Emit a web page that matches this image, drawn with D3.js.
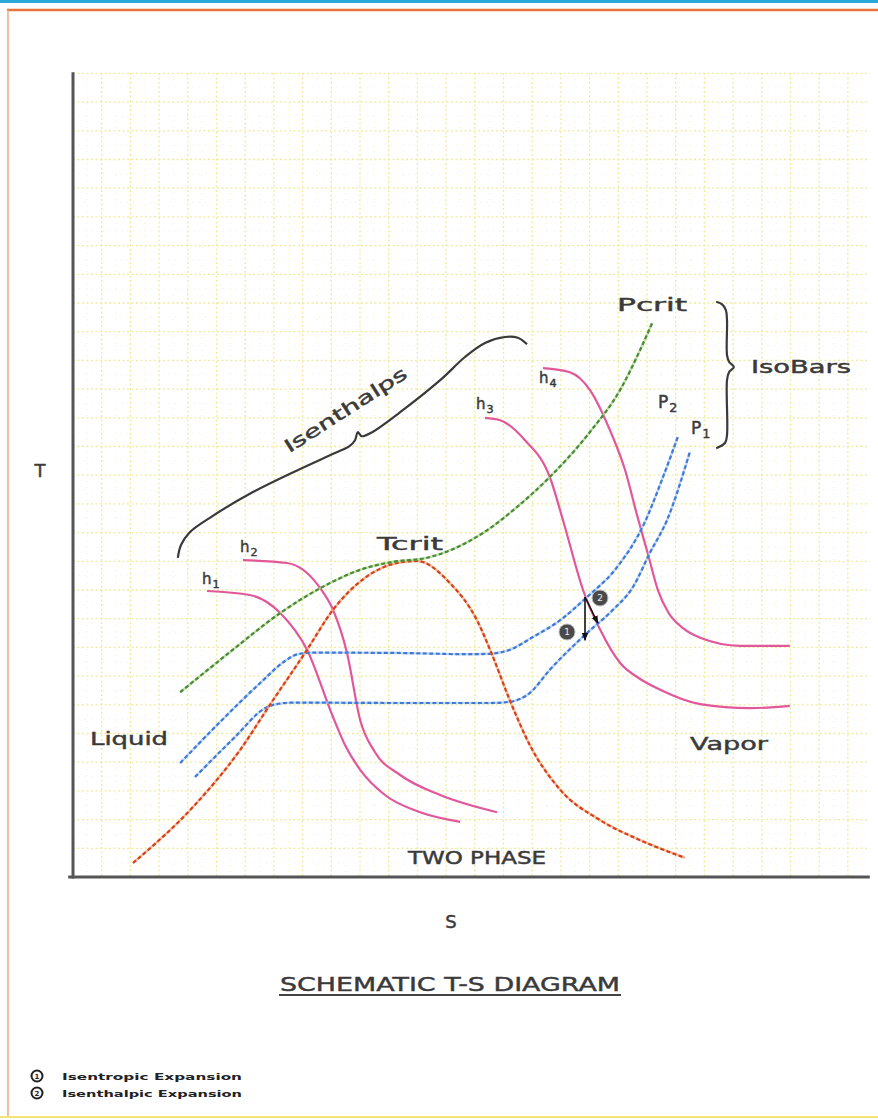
<!DOCTYPE html>
<html><head><meta charset="utf-8">
<script src="https://cdn.jsdelivr.net/npm/d3@7"></script>
<style>body{margin:0;background:#fff}svg{display:block}text{font-family:"DejaVu Sans",sans-serif;fill:#3a3a3a;stroke:#3a3a3a;stroke-width:0.45}</style>
</head><body>
<svg id="c" width="878" height="1120"></svg>
<script>
// ---- data (S, T in schematic units 0..100) ----
const pcrit = [[13.4,23.1],[19.6,28.1],[25.9,33.0],[30.9,36.1],[35.9,38.4],[40.0,39.4],[44.25,39.9],[51.25,43.0],[55.5,46.25],[59.6,50.0],[64.6,55.6],[68.4,60.9],[70.9,65.9],[72.4,69.25]];
const dome = [[7.5,1.75],[15.0,8.75],[20.9,15.9],[24.6,21.5],[29.25,28.4],[32.5,33.4],[36.5,37.4],[40.5,39.25],[43.0,39.5],[47.1,36.75],[50.5,32.1],[52.4,27.75],[54.6,22.1],[57.1,16.5],[60.9,10.9],[65.9,7.1],[70.9,4.6],[76.5,2.4]];
const p2 = [[13.4,14.25],[18.4,19.4],[23.4,24.25],[26.5,27.0],[27.9,27.8],[29.9,28.05],[40.9,28.0],[49.6,27.85],[52.1,27.9],[54.6,28.4],[57.5,30.0],[60.9,32.1],[64.25,35.0],[67.75,38.4],[71.5,44.4],[73.6,49.6],[75.6,55.0]];
const p1 = [[15.25,12.5],[20.25,17.5],[24.0,21.1],[25.4,21.6],[27.4,21.8],[40.9,21.75],[52.1,21.75],[54.6,21.9],[57.1,23.0],[59.6,25.9],[64.25,30.5],[67.5,33.4],[70.0,36.25],[72.1,40.5],[74.25,44.6],[77.1,53.1]];
const h1 = [[16.75,35.75],[22.1,35.25],[25.9,33.0],[29.25,28.4],[32.5,20.0],[34.0,16.5],[35.9,13.4],[39.0,10.25],[43.4,8.1],[48.4,6.9]];
const h2 = [[21.25,39.6],[26.75,39.25],[30.9,36.1],[32.5,33.4],[34.25,28.0],[35.9,19.6],[37.75,15.6],[40.9,12.75],[45.9,10.25],[53.0,8.1]];
const h3 = [[51.5,57.4],[53.4,57.1],[56.5,54.6],[59.6,50.0],[61.25,44.6],[63.75,35.9],[65.9,30.9],[68.4,26.75],[70.9,24.75],[73.4,23.4],[78.4,21.6],[84.6,21.1],[89.6,21.4]];
const h4 = [[58.75,63.6],[62.1,63.1],[64.6,60.9],[67.1,55.9],[69.0,50.9],[70.5,45.25],[71.9,40.25],[73.1,35.9],[74.4,33.1],[76.25,31.1],[78.4,29.9],[83.4,28.9],[89.6,28.9]];
const expansionStart = [64.0,35.0];
const isentropicEnd = [64.0,29.6];
const isenthalpicEnd = [65.6,31.75];
const isenthalpBrace = [[13.1,39.9],[13.5,41.5],[14.6,43.1],[17.1,44.9],[22.1,47.9],[28.4,51.0],[32.75,53.0],[34.6,53.9],[35.25,54.6],[35.6,55.6],[36.1,55.1],[37.4,55.6],[40.9,58.1],[45.9,62.1],[49.0,65.0],[51.5,66.75],[54.0,67.5],[55.6,67.4],[56.75,66.6]];
const isobarBrace = [[80.4,71.9],[81.1,71.6],[81.6,70.9],[81.75,69.6],[81.75,65.25],[82.0,64.4],[82.6,63.75],[82.0,63.1],[81.75,62.1],[81.75,55.25],[81.5,54.25],[80.4,53.6]];
const legendItems = ["Isentropic Expansion","Isenthalpic Expansion"];

const svg = d3.select("#c");
const x = d3.scaleLinear().domain([0,100]).range([73,873]);
const y = d3.scaleLinear().domain([0,100]).range([877,77]);

// frame decorations
svg.append("rect").attr("x",0).attr("y",0).attr("width",878).attr("height",3).attr("fill","#2aa8d8");
svg.append("line").attr("x1",7).attr("x2",878).attr("y1",10).attr("y2",10).attr("stroke","#e8743a").attr("stroke-width",2.5);
svg.append("line").attr("x1",8).attr("x2",8).attr("y1",10).attr("y2",1116).attr("stroke","#f2a878").attr("stroke-width",1.5);
svg.append("line").attr("x1",0).attr("x2",878).attr("y1",1117).attr("y2",1117).attr("stroke","#f3e47a").attr("stroke-width",2);

// grid
const step = 3.5875;
const g = svg.append("g");
const gx = d3.range(1,28).map(k=>k*step);
const gy = d3.range(1,29).map(k=>k*step);
const minorX = d3.range(0,28).map(k=>k*step+step/2);
const minorY = d3.range(0,28).map(k=>k*step+step/2);
g.selectAll(".mv").data(minorX).join("line").attr("x1",d=>x(d)).attr("x2",d=>x(d)).attr("y1",y(100.5)).attr("y2",y(0)).attr("stroke","#f6f4cc").attr("stroke-width",1).attr("stroke-dasharray","1,5");
g.selectAll(".mh").data(minorY).join("line").attr("y1",d=>y(d)).attr("y2",d=>y(d)).attr("x1",x(0)).attr("x2",x(99.6)).attr("stroke","#f6f4cc").attr("stroke-width",1).attr("stroke-dasharray","1,5");
g.selectAll(".v").data(gx).join("line").attr("x1",d=>x(d)).attr("x2",d=>x(d)).attr("y1",y(100.5)).attr("y2",y(0)).attr("stroke","#eeeb9c").attr("stroke-width",1.3).attr("stroke-dasharray","2,2.5");
g.selectAll(".h").data(gy).join("line").attr("y1",d=>y(d)).attr("y2",d=>y(d)).attr("x1",x(0)).attr("x2",x(99.6)).attr("stroke","#eeeb9c").attr("stroke-width",1.3).attr("stroke-dasharray","2,2.5");

// axes
svg.append("line").attr("x1",x(0)).attr("x2",x(0)).attr("y1",y(100.6)).attr("y2",y(0)+1.5).attr("stroke","#555").attr("stroke-width",3);
svg.append("line").attr("x1",x(-0.6)).attr("x2",x(99.6)).attr("y1",y(0)).attr("y2",y(0)).attr("stroke","#555").attr("stroke-width",3);

const line = d3.line().x(d=>x(d[0])).y(d=>y(d[1])).curve(d3.curveMonotoneX);
const braceLine = d3.line().x(d=>x(d[0])).y(d=>y(d[1])).curve(d3.curveCatmullRom.alpha(0.5));
function dashed(data, light, dark){
  svg.append("path").attr("d",line(data)).attr("fill","none").attr("stroke",light).attr("stroke-width",2.4).attr("opacity",0.7);
  svg.append("path").attr("d",line(data)).attr("fill","none").attr("stroke",dark).attr("stroke-width",2.2).attr("stroke-dasharray","4,2.5");
}
function pink(data){
  svg.append("path").attr("d",line(data)).attr("fill","none").attr("stroke","#e2579a").attr("stroke-width",2.2);
}
[h1,h2,h3,h4].forEach(pink);
dashed(p2,"#a8c6f2","#3f7ad8");
dashed(p1,"#a8c6f2","#3f7ad8");
dashed(dome,"#f5a070","#d8401c");
dashed(pcrit,"#a6d482","#4a8a38");

// braces
[isenthalpBrace, isobarBrace].forEach(b=>{
  svg.append("path").attr("d",braceLine(b)).attr("fill","none").attr("stroke","#3a3a3a").attr("stroke-width",2.2);
});

// arrows
const defs = svg.append("defs");
defs.append("marker").attr("id","ah").attr("viewBox","0 0 10 10").attr("refX",9).attr("refY",5)
  .attr("markerWidth",5).attr("markerHeight",6).attr("orient","auto")
  .append("path").attr("d","M0,1 L10,5 L0,9 Z").attr("fill","#111");
[isentropicEnd, isenthalpicEnd].forEach(e=>{
  svg.append("line").attr("x1",x(expansionStart[0])).attr("y1",y(expansionStart[1]))
    .attr("x2",x(e[0])).attr("y2",y(e[1])).attr("stroke","#111").attr("stroke-width",1.6).attr("marker-end","url(#ah)");
});
function badge(cx,cy,n,r,fs){
  svg.append("circle").attr("cx",cx).attr("cy",cy).attr("r",r).attr("fill","#4a4a4a").attr("stroke","#bbb").attr("stroke-width",1);
  svg.append("text").attr("x",cx).attr("y",cy+fs*0.36).attr("text-anchor","middle").attr("font-size",fs).style("fill","#eee").style("stroke","none").text(n);
}
badge(567,632,"1",8,9);
badge(600,598,"2",8,9);

// texts
function txt(s,px,py,fs,len,anchor){
  const t = svg.append("text").attr("x",px).attr("y",py).attr("font-size",fs).text(s);
  if(len){t.attr("textLength",len).attr("lengthAdjust","spacingAndGlyphs");}
  if(anchor) t.attr("text-anchor",anchor);
  return t;
}
function sub(base,s,px,py,fs){
  const t = svg.append("text").attr("x",px).attr("y",py).attr("font-size",fs);
  t.append("tspan").text(base);
  t.append("tspan").attr("font-size",fs*0.75).attr("dy",fs*0.25).attr("dx",1).text(s);
}
txt("T",40,477,18,null,"middle");
txt("S",451,928,18,null,"middle");
txt("Pcrit",617,311,18,70);
txt("IsoBars",751,373,18,100);
sub("P","2",658,408,17);
sub("P","1",691,434,17);
sub("h","4",539,383,15);
sub("h","3",476,409,15);
sub("h","2",240,552,15);
sub("h","1",202,584,15);
txt("Tcrit",377,550,18,66);
txt("Liquid",90,745,18,78);
txt("Vapor",690,750,18,78);
txt("TWO PHASE",408,864,17,138);
txt("SCHEMATIC T-S DIAGRAM",280,991,20,340);
svg.append("line").attr("x1",279).attr("x2",621).attr("y1",995).attr("y2",995).attr("stroke","#444").attr("stroke-width",2);
svg.append("text").attr("transform","translate(349,415) rotate(-32.7)").attr("text-anchor","middle")
  .attr("font-size",18).attr("textLength",142).attr("lengthAdjust","spacingAndGlyphs").text("Isenthalps");

legendItems.forEach((s,i)=>{
  const cy = 1076 + i*17;
  svg.append("circle").attr("cx",37).attr("cy",cy).attr("r",5.5).attr("fill","#fff").attr("stroke","#222").attr("stroke-width",2);
  svg.append("text").attr("x",37).attr("y",cy+3).attr("text-anchor","middle").attr("font-size",7).attr("font-weight","bold").style("fill","#222").style("stroke","none").text(i+1);
  svg.append("text").attr("x",62).attr("y",cy+4).attr("font-size",9.5).attr("font-weight","bold").style("fill","#222").style("stroke","none")
    .attr("textLength",180).attr("lengthAdjust","spacingAndGlyphs").text(s);
});
</script>
</body></html>
